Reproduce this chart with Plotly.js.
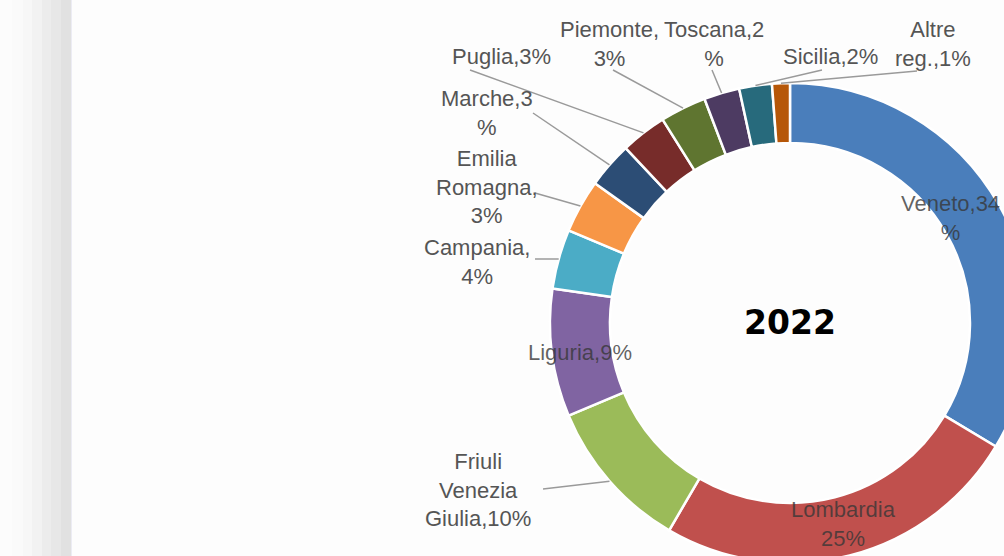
<!DOCTYPE html>
<html>
<head>
<meta charset="utf-8">
<script src="https://cdn.plot.ly/plotly-3.0.1.min.js"></script>
<style>
  html, body { margin: 0; padding: 0; overflow: hidden; background: #fdfdfd; }
  #chart { width: 1100px; height: 700px; }
</style>
</head>
<body>
<div id="chart"></div>
<script>
// ---- data ----
const regions = ['Veneto', 'Lombardia', 'Friuli Venezia Giulia', 'Liguria', 'Campania',
                 'Emilia Romagna', 'Marche', 'Puglia', 'Piemonte', 'Toscana', 'Sicilia', 'Altre reg.'];
const shares = [33.6, 24.8, 10.3, 8.6, 4.0, 3.6, 3.1, 3.1, 3.1, 2.4, 2.2, 1.2];
const labelTexts = ['Veneto,34<br>%', 'Lombardia<br>25%', 'Friuli<br>Venezia<br>Giulia,10%', 'Liguria,9%',
                    'Campania,<br>4%', 'Emilia<br>Romagna,<br>3%', 'Marche,3<br>%', 'Puglia,3%',
                    'Piemonte,<br>3%', 'Toscana,2<br>%', 'Sicilia,2%', 'Altre<br>reg.,1%'];
const sliceColors = ['#4a7ebb', '#c0504d', '#9bbb59', '#8064a2', '#4bacc6', '#f79646',
                     '#2c4d75', '#772c2a', '#5f7530', '#4d3b62', '#276a7c', '#b65708'];
const yearLabel = '2022';

// ---- layout geometry (pixels) ----
const W = 1100, H = 700;
const CX = 790, CY = 323, R = 240;
const px = x => x / W;
const py = y => 1 - y / H;

// label placement: [centerX, centerY, inside?, leaderStartX, leaderStartY]
const labelPlace = [
  [950, 218, true],
  [843, 524, true],
  [478, 490, false, 543, 489],
  [580, 352, true],
  [477, 262, false, 535, 259],
  [487, 187, false, 535, 193],
  [487, 113, false, 533, 113],
  [501, 57, false, 470, 70],
  [609, 44, false, 613, 70],
  [714, 44, false, 712, 70],
  [830, 57, false, 822, 70],
  [933, 44, false, 917, 71]
];

const total = shares.reduce((a, b) => a + b, 0);
let cum = 0;
const annotations = [];
const shapes = [];

// left gradient strip
const bands = [[0, 12, '#fcfcfc'], [12, 23, '#fafafa'], [23, 32, '#f7f7f7'], [32, 42, '#f2f2f2'],
               [42, 51, '#ececec'], [51, 61, '#e7e7e7'], [61, 71, '#e1e1e1']];
bands.forEach(b => shapes.push({type: 'rect', xref: 'paper', yref: 'paper', layer: 'below',
  x0: px(b[0]), x1: px(b[1]), y0: 0, y1: 1, line: {width: 0}, fillcolor: b[2]}));
shapes.push({type: 'line', xref: 'paper', yref: 'paper', layer: 'below',
  x0: px(71.5), x1: px(71.5), y0: 0, y1: 1, line: {width: 1, color: '#ececf4'}});

shares.forEach((v, i) => {
  const mid = (cum + v / 2) / total * 2 * Math.PI;
  cum += v;
  const p = labelPlace[i];
  if (!p[2]) {
    const ex = CX + R * Math.sin(mid);
    const ey = CY - R * Math.cos(mid);
    shapes.push({type: 'line', xref: 'paper', yref: 'paper',
      x0: px(p[3]), y0: py(p[4]), x1: px(ex), y1: py(ey),
      line: {color: '#9a9a9a', width: 1.5}});
  }
  annotations.push({
    xref: 'paper', yref: 'paper', x: px(p[0]), y: py(p[1]),
    xanchor: 'center', yanchor: 'middle', showarrow: false, align: 'center',
    text: labelTexts[i],
    font: {family: 'Liberation Sans, Arial, sans-serif', size: 22,
           color: p[2] ? 'rgba(55,55,55,0.78)' : '#555555'}
  });
});

annotations.push({
  xref: 'paper', yref: 'paper', x: px(CX), y: py(322),
  xanchor: 'center', yanchor: 'middle', showarrow: false,
  text: '<b>' + yearLabel + '</b>',
  font: {family: 'DejaVu Sans, sans-serif', size: 33, color: '#000000'}
});

const trace = {
  type: 'pie',
  labels: regions,
  values: shares,
  hole: 0.75,
  sort: false,
  direction: 'clockwise',
  rotation: 0,
  textinfo: 'none',
  hoverinfo: 'label+percent',
  marker: {colors: sliceColors, line: {color: '#ffffff', width: 2.5}},
  domain: {x: [px(CX - R), px(CX + R)], y: [py(CY + R), py(CY - R)]},
  showlegend: false
};

Plotly.newPlot('chart', [trace], {
  width: W, height: H,
  margin: {l: 0, r: 0, t: 0, b: 0},
  paper_bgcolor: '#fdfdfd',
  plot_bgcolor: '#fdfdfd',
  showlegend: false,
  annotations: annotations,
  shapes: shapes
}, {staticPlot: true});
</script>
</body>
</html>
